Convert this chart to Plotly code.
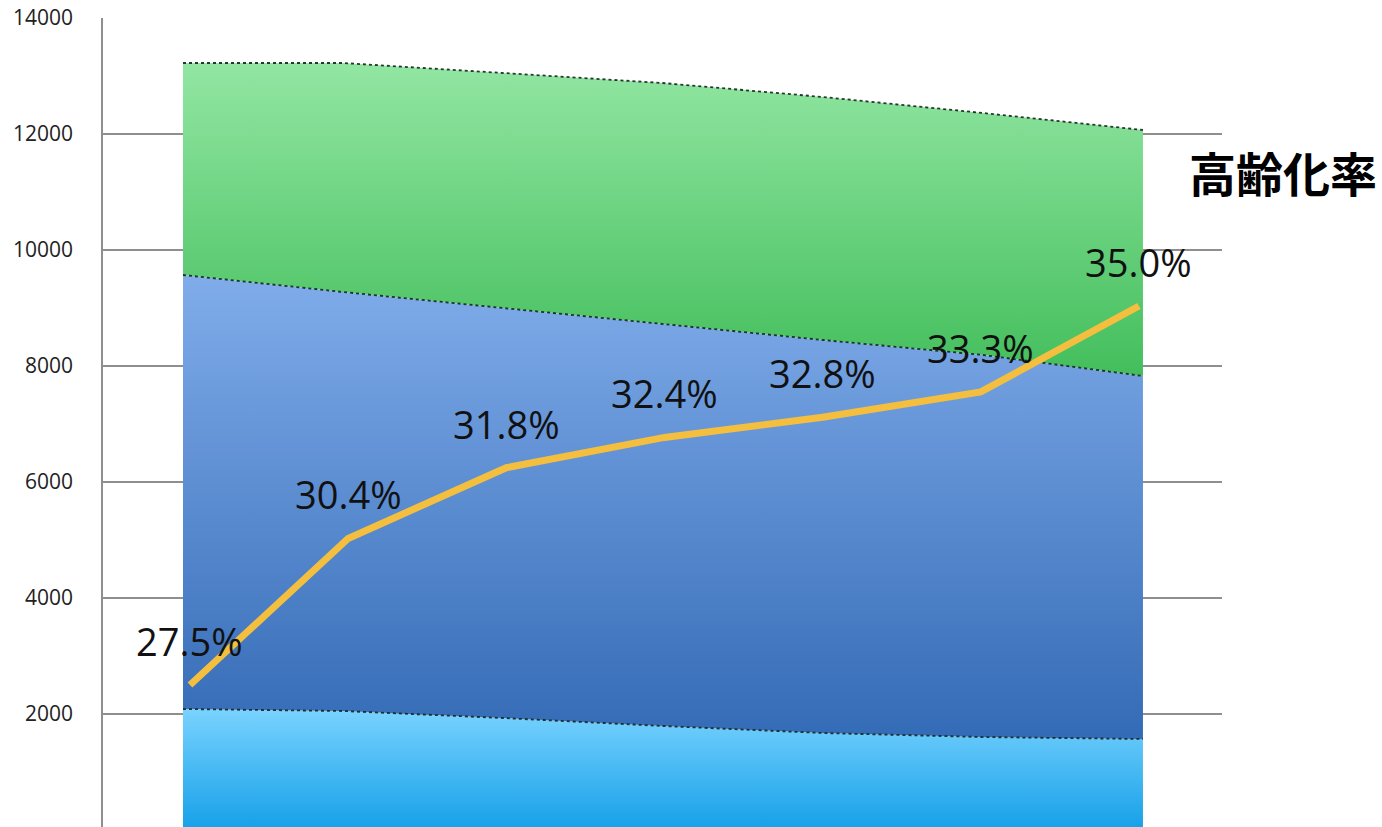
import plotly.graph_objects as go

# ---- data ----
periods = [0, 1, 2, 3, 4, 5, 6]
young = [2086, 2052, 1931, 1793, 1672, 1603, 1569]          # bottom layer
working = [7483, 7224, 7069, 6931, 6776, 6587, 6259]        # middle layer
elderly = [3655, 3948, 4052, 4155, 4190, 4172, 4241]        # top layer
aging_rate = [27.5, 30.4, 31.8, 32.4, 32.8, 33.3, 35.0]     # 高齢化率 (%)
y_ticks = [0, 2000, 4000, 6000, 8000, 10000, 12000, 14000]
y_tick_text = ["0", "2000", "4000", "6000", "8000", "10000", "12000", "14000"]
title_text = "高齢化率"

edge = dict(color="rgba(20,35,30,0.9)", width=1.8, dash="dot")

fig = go.Figure()
fig.add_trace(go.Scatter(
    x=periods, y=young, stackgroup="pop", mode="lines", line=edge,
    fillgradient=dict(type="vertical", start=0, stop=2100,
                      colorscale=[[0, "#16A0E8"], [1, "#7AD3FF"]]),
    hoverinfo="skip", showlegend=False))
fig.add_trace(go.Scatter(
    x=periods, y=working, stackgroup="pop", mode="lines", line=edge,
    fillgradient=dict(type="vertical", start=1569, stop=9569,
                      colorscale=[[0, "#346BB6"], [1, "#80ACEA"]]),
    hoverinfo="skip", showlegend=False))
fig.add_trace(go.Scatter(
    x=periods, y=elderly, stackgroup="pop", mode="lines", line=edge,
    fillgradient=dict(type="vertical", start=7828, stop=13224,
                      colorscale=[[0, "#43BE5C"], [1, "#92E6A2"]]),
    hoverinfo="skip", showlegend=False))

fig.add_trace(go.Scatter(
    x=periods, y=aging_rate, xaxis="x2", yaxis="y2", mode="lines",
    line=dict(color="#F4BE3F", width=7),
    hoverinfo="skip", showlegend=False))

annotations = []
for p, r in zip(periods, aging_rate):
    annotations.append(dict(
        x=p, y=r, xref="x2", yref="y2", text=f"{r:.1f}%", showarrow=False,
        yshift=44, xanchor="center", yanchor="middle",
        font=dict(family="Open Sans", size=38, color="#111111")))
annotations.append(dict(
    x=1.0545, y=0.81, xref="paper", yref="paper", text=f"<b>{title_text}</b>",
    showarrow=False, xanchor="center", yanchor="middle",
    font=dict(family="Noto Sans CJK JP", size=47, color="#000000")))
annotations.append(dict(
    x=0, y=0, xref="paper", yref="y", text="0", showarrow=False,
    xanchor="right", yanchor="middle", xshift=-26,
    font=dict(family="Open Sans", size=21, color="#222222")))

fig.update_layout(
    width=1382, height=827,
    margin=dict(l=103, r=160, t=18, b=0),
    paper_bgcolor="white", plot_bgcolor="white",
    xaxis=dict(range=[-0.5, 6.494], visible=False, fixedrange=True),
    xaxis2=dict(range=[-0.55, 6.525], overlaying="x", anchor="y2", visible=False),
    yaxis=dict(range=[52, 14000], tickvals=y_ticks, ticktext=y_tick_text,
               showgrid=True, gridcolor="#8f8f8f", gridwidth=1.5, showline=True,
               linecolor="#8f8f8f", linewidth=1.5, zeroline=False,
               ticks="", ticklabelstandoff=24,
               tickfont=dict(family="Open Sans", size=21, color="#222222")),
    yaxis2=dict(range=[24.69, 40.70], overlaying="y", anchor="x2", visible=False),
    annotations=annotations,
)

fig.write_html("out.html")
